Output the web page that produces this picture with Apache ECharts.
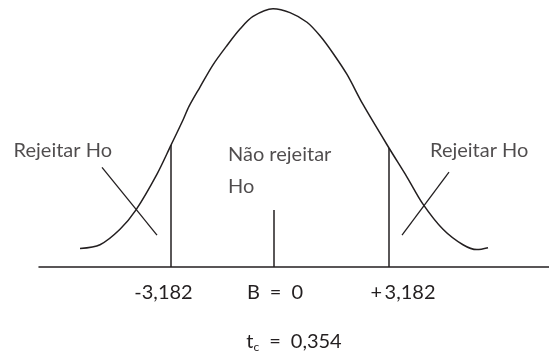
<!DOCTYPE html>
<html>
<head>
<meta charset="utf-8">
<script src="https://cdn.jsdelivr.net/npm/echarts@6/dist/echarts.min.js"></script>
<style>
  html, body { margin: 0; padding: 0; background: #fff; }
  #chart { width: 549px; height: 358px; }
</style>
</head>
<body>
<div id="chart"></div>
<script>
// horizontal units = position along the drawing, vertical units = height above the baseline
var curveX = [80, 100, 120, 136, 157, 171, 183, 189, 200, 213, 227, 240, 253, 273,
              290, 307, 320, 333, 347, 363, 389, 407, 423, 443, 463, 477, 488]
var curveH = [19, 23, 39, 59, 96, 126, 152, 166, 186, 209, 229, 246, 259, 267,
              263, 253, 239, 221, 199, 168, 123, 93, 65, 39, 23, 18, 20]

// vertical lines: critical values and centre
var lineX = [171, 274, 389]
var lineTop = [126, 59, 123]

// the strokes crossing each tail
var crossLeftX = [102, 157]
var crossLeftH = [103, 33]
var crossRightX = [449, 402]
var crossRightH = [98, 33]

var tickLabels = ['-3,182', 'B\u2002=\u20020', '+\u20093,182']
var tickPos = [163.5, 275, 403]

var notes = ['Rejeitar Ho', 'Não rejeitar', 'Ho', 'Rejeitar Ho']
var noteX = [112, 228, 228, 430]
var noteH = [120, 116, 83, 120]
var noteAlign = ['right', 'left', 'left', 'left']

var ink = '#231f20'
var font = 'Lato'

function pairs(xs, hs) {
    return xs.map(function (x, i) { return [x, hs[i]] })
}

var series = []
series.push({
    type: 'line',
    data: pairs(curveX, curveH),
    smooth: 0.3,
    symbol: 'none',
    lineStyle: { color: ink, width: 1.5 }
})
lineX.forEach(function (x, i) {
    series.push({
        type: 'line',
        data: [[x, 0], [x, lineTop[i]]],
        symbol: 'none',
        lineStyle: { color: ink, width: 1.5 }
    })
})
series.push({
    type: 'line',
    data: pairs(crossLeftX, crossLeftH),
    symbol: 'none',
    lineStyle: { color: ink, width: 1.3 }
})
series.push({
    type: 'line',
    data: pairs(crossRightX, crossRightH),
    symbol: 'none',
    lineStyle: { color: ink, width: 1.3 }
})
series.push({
    type: 'scatter',
    symbolSize: 0,
    data: notes.map(function (t, i) {
        return { name: t, value: [noteX[i], noteH[i]], label: { align: noteAlign[i] } }
    }),
    label: {
        show: true,
        position: [0, 0],
        verticalAlign: 'middle',
        formatter: '{b}',
        color: ink,
        fontFamily: font,
        fontSize: 20
    }
})

var chart = echarts.init(document.getElementById('chart'))
chart.setOption({
    animation: false,
    grid: { left: 39, right: 0, top: 0, bottom: 82 },
    xAxis: {
        type: 'value',
        min: 39,
        max: 549,
        axisLine: { show: true, lineStyle: { color: ink, width: 1.5 } },
        axisTick: { show: false },
        splitLine: { show: false },
        axisLabel: {
            customValues: tickPos,
            margin: 16,
            color: ink,
            fontFamily: font,
            fontSize: 20,
            formatter: function (v) {
                var i = tickPos.indexOf(v)
                return i >= 0 ? tickLabels[i] : ''
            }
        },
        name: '{t|t}{c|c}{t|\u2002=\u20020,354}',
        nameLocation: 'middle',
        nameGap: 64,
        nameTextStyle: {
            rich: {
                t: { color: ink, fontFamily: font, fontSize: 20 },
                c: { color: ink, fontFamily: font, fontSize: 12, padding: [10, 0, 0, 0] }
            }
        }
    },
    yAxis: {
        type: 'value',
        min: 0,
        max: 276,
        show: false
    },
    series: series
})
</script>
</body>
</html>
